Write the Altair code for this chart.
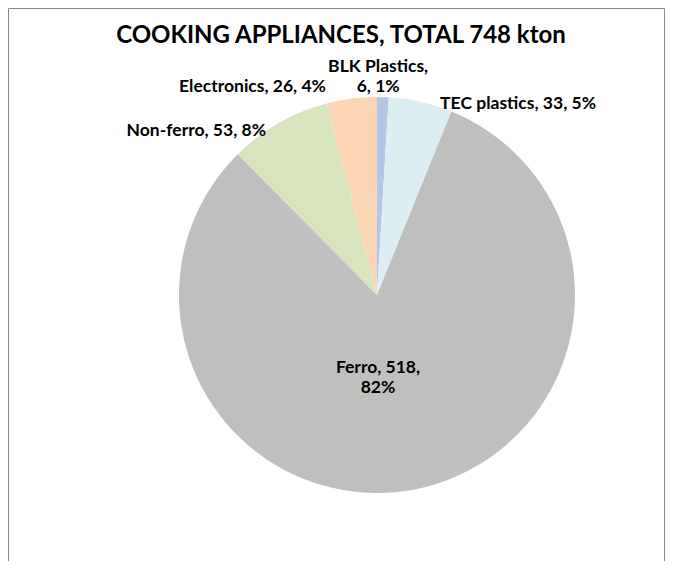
import altair as alt
import pandas as pd
import numpy as np

categories = ["BLK Plastics", "TEC plastics", "Ferro", "Non-ferro", "Electronics"]
values = [6, 33, 518, 53, 26]
percents = ["1%", "5%", "82%", "8%", "4%"]
colors = ["#b4c7e7", "#dbeef4", "#bfbfbf", "#d7e4bd", "#fcd5b5"]
title_text = "COOKING APPLIANCES, TOTAL 748 kton"

# label layout (polar placement around pie centre, degrees clockwise from top)
label_angle = [0.3, 18.3, 179.3, 325.9, 346.2]
label_radius = [218, 201, 83, 198, 214]
label_align = ["center", "left", "center", "right", "right"]
label_breaks = [True, False, True, False, False]

W, H = 657, 553
CX, CY, R = 369, 287, 198
FONT = "Lato"
LINE_H = 20.5

labels = []
for c, v, p, br in zip(categories, values, percents, label_breaks):
    if c == "Ferro":
        labels.append(f"{c}, {v},\n{p}")
    elif br:
        labels.append(f"{c},\n{v}, {p}")
    else:
        labels.append(f"{c}, {v}, {p}")

ang = np.radians(label_angle)
# vertically centre two-line labels on their anchor
shift = np.array([LINE_H / 2 if b else 0 for b in label_breaks])
df = pd.DataFrame({
    "category": categories,
    "value": values,
    "order": list(range(len(categories))),
    "label": labels,
    "lx": CX + np.array(label_radius) * np.sin(ang),
    "ly": CY - np.array(label_radius) * np.cos(ang) - shift,
    "align": label_align,
})

pie = alt.Chart(df).mark_arc(radius=R, stroke=None).encode(
    theta=alt.Theta("value:Q", stack=True),
    order=alt.Order("order:Q"),
    color=alt.Color("category:N", scale=alt.Scale(domain=categories, range=colors), legend=None),
    x=alt.value(CX),
    y=alt.value(CY),
)

def text_layer(al):
    return alt.Chart(df).transform_filter(alt.datum.align == al).mark_text(
        font=FONT, fontWeight="bold", fontSize=17.5, align=al, baseline="middle",
        lineBreak="\n", lineHeight=LINE_H, color="#000000",
    ).encode(
        x=alt.X("lx:Q", scale=None, axis=None),
        y=alt.Y("ly:Q", scale=None, axis=None),
        text="label:N",
    )

title = alt.Chart(pd.DataFrame({"t": [title_text]})).mark_text(
    font=FONT, fontWeight="bold", fontSize=24, align="center", baseline="middle", color="#000000",
).encode(x=alt.value(333), y=alt.value(28), text="t:N")

border = alt.Chart(pd.DataFrame({"k": [0]})).mark_rect(
    fill=None, stroke="#898989", strokeWidth=1,
).encode(x=alt.value(0.5), x2=alt.value(W - 0.5), y=alt.value(0.5), y2=alt.value(H + 20))

chart = alt.layer(border, pie, text_layer("center"), text_layer("left"), text_layer("right"), title).properties(
    width=W, height=H, padding=0, autosize=alt.AutoSizeParams(type="none"),
).configure_view(stroke=None)

chart.save("out.html", embed_options={"renderer": "svg", "actions": False})
